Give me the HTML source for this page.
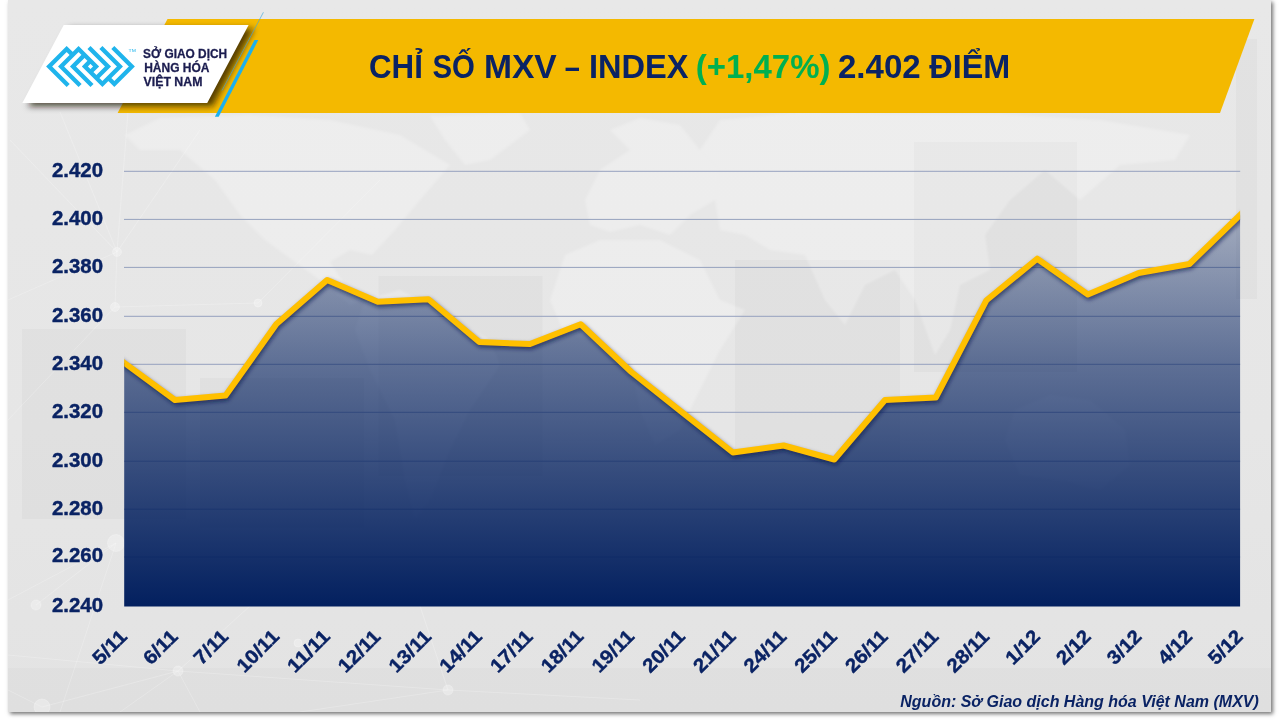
<!DOCTYPE html>
<html lang="vi">
<head>
<meta charset="utf-8">
<title>Chỉ số MXV – Index</title>
<style>
html,body{margin:0;padding:0;background:#fff;}
body{width:1280px;height:720px;overflow:hidden;position:relative;font-family:"Liberation Sans","DejaVu Sans",sans-serif;}
#slide{position:absolute;left:8px;top:0;width:1263px;height:712px;background:linear-gradient(#e8e8e8 0,#e6e6e6 60%,#e3e3e3 100%);box-shadow:2px 2px 4px rgba(0,0,0,.55);}
svg{position:absolute;left:0;top:0;}
.ax{font-family:"Liberation Sans","DejaVu Sans",sans-serif;font-weight:700;fill:#0a2364;stroke:#0a2364;stroke-width:.4px;}
</style>
</head>
<body>
<div id="slide"></div>
<svg width="1280" height="720" viewBox="0 0 1280 720">
<defs>
<linearGradient id="ga" gradientUnits="userSpaceOnUse" x1="0" y1="215" x2="0" y2="606">
<stop offset="0" stop-color="#03205f" stop-opacity=".30"/>
<stop offset=".38" stop-color="#03205f" stop-opacity=".60"/>
<stop offset="1" stop-color="#03205f" stop-opacity="1"/>
</linearGradient>
<linearGradient id="gs" gradientUnits="userSpaceOnUse" x1="208" y1="0" x2="222" y2="7.5">
<stop offset="0" stop-color="#3a2a00" stop-opacity=".75"/>
<stop offset="1" stop-color="#3a2a00" stop-opacity="0"/>
</linearGradient>
<filter id="ls" x="-5%" y="-20%" width="110%" height="140%"><feGaussianBlur stdDeviation="2"/></filter>
<filter id="ps" x="-10%" y="-20%" width="120%" height="150%"><feGaussianBlur stdDeviation="3"/></filter>
<filter id="mb" x="-5%" y="-5%" width="110%" height="110%"><feGaussianBlur stdDeviation="1.2"/></filter>
<clipPath id="cp"><rect x="124.2" y="150" width="1115.9" height="456.5"/></clipPath>
<clipPath id="cs"><rect x="8" y="0" width="1263" height="712"/></clipPath>
</defs>

<g id="bg" clip-path="url(#cs)">
<rect x="8" y="668" width="1263" height="44" fill="#000" fill-opacity=".016"/>
<g fill="#000" fill-opacity=".022">
<rect x="22" y="329" width="164" height="190"/>
<rect x="200" y="378" width="164" height="150"/>
<rect x="378.5" y="276" width="164" height="200"/>
<rect x="735" y="260" width="165" height="200"/>
<rect x="914" y="142" width="163" height="230"/>
<rect x="1236" y="39" width="21" height="260"/>
</g>
<g fill="#fff" fill-opacity=".24" filter="url(#mb)">
<path d="M125,135 L160,118 L250,115 L330,120 L400,135 L450,165 L420,200 L395,230 L372,255 L350,250 L330,262 L345,285 L365,300 L350,305 L320,280 L295,262 L265,240 L240,215 L215,180 L180,150 L140,150 Z"/>
<path d="M430,116 L520,113 L530,130 L490,160 L465,165 L445,140 Z"/>
<path d="M365,300 L400,290 L440,310 L490,340 L500,365 L470,410 L450,450 L430,500 L415,520 L405,480 L395,420 L370,370 L355,330 Z"/>
<path d="M585,200 L600,170 L630,150 L610,130 L640,118 L680,125 L700,150 L720,170 L715,200 L690,215 L670,235 L640,225 L610,232 L590,225 Z"/>
<path d="M565,255 L600,240 L660,240 L700,260 L720,300 L745,310 L720,350 L700,390 L680,430 L655,445 L640,410 L630,360 L600,340 L565,335 L550,300 Z"/>
<path d="M700,150 L720,120 L800,112 L900,114 L1000,114 L1100,120 L1190,135 L1175,160 L1120,165 L1080,200 L1045,170 L1010,200 L985,235 L990,270 L960,285 L950,330 L935,355 L915,300 L895,270 L865,285 L845,325 L825,300 L805,255 L770,250 L745,235 L720,230 L715,200 L720,170 Z"/>
<path d="M1015,410 L1050,395 L1090,400 L1125,430 L1130,465 L1100,490 L1060,480 L1020,475 L1005,440 Z"/>
</g>
<g stroke="#fff" stroke-opacity=".22" stroke-width="1" fill="#fff" fill-opacity=".28">
<path d="M117,252 L10,140 M117,252 L60,112 M117,252 L128,112 M117,252 L200,130 M117,252 L8,300 M117,252 L115,307 M115,307 L8,420 M115,307 L258,303 M258,303 L380,180 M116,543 L8,600 M116,543 L36,605 M116,543 L60,712" fill="none"/>
<circle cx="117" cy="252" r="4.5"/><circle cx="115" cy="307" r="4.5"/><circle cx="258" cy="303" r="4"/><circle cx="116" cy="543" r="8.5"/><circle cx="36" cy="605" r="5"/><circle cx="178" cy="671" r="5"/><circle cx="42" cy="707" r="8"/><circle cx="448" cy="690" r="5"/><circle cx="298" cy="643" r="4"/>
<path d="M178,671 L8,655 M178,671 L42,707 M178,671 L120,712 M178,671 L200,712 M178,671 L448,690 M178,671 L250,606 M42,707 L8,690 M448,690 L300,712 M448,690 L640,700 M448,690 L420,606" fill="none"/>
</g>
</g>

<g stroke="#95a1be" stroke-width="1">
<line x1="124" y1="171.30" x2="1240.2" y2="171.30"/>
<line x1="124" y1="219.40" x2="1240.2" y2="219.40"/>
<line x1="124" y1="267.40" x2="1240.2" y2="267.40"/>
<line x1="124" y1="316.30" x2="1240.2" y2="316.30"/>
<line x1="124" y1="364.30" x2="1240.2" y2="364.30"/>
<line x1="124" y1="412.30" x2="1240.2" y2="412.30"/>
<line x1="124" y1="461.20" x2="1240.2" y2="461.20"/>
<line x1="124" y1="509.20" x2="1240.2" y2="509.20"/>
<line x1="124" y1="557.00" x2="1240.2" y2="557.00"/>
</g>

<path d="M124.2,606.6 L124.2,362.8 L174.9,400.0 L225.6,395.5 L276.4,324.0 L327.1,280.0 L377.8,301.8 L428.5,299.2 L479.3,342.0 L530.0,344.0 L580.7,324.2 L631.4,372.0 L682.2,412.3 L732.9,452.5 L783.6,445.5 L834.3,459.5 L885.0,400.0 L935.8,397.5 L986.5,300.2 L1037.2,258.7 L1087.9,294.5 L1138.7,273.0 L1189.4,264.0 L1240.1,215.0 L1240.1,606.6 Z" fill="url(#ga)"/>

<g clip-path="url(#cp)"><polyline points="114.1,355.4 124.2,362.8 174.9,400.0 225.6,395.5 276.4,324.0 327.1,280.0 377.8,301.8 428.5,299.2 479.3,342.0 530.0,344.0 580.7,324.2 631.4,372.0 682.2,412.3 732.9,452.5 783.6,445.5 834.3,459.5 885.0,400.0 935.8,397.5 986.5,300.2 1037.2,258.7 1087.9,294.5 1138.7,273.0 1189.4,264.0 1240.1,215.0 1250.3,205.2" fill="none" stroke="#0a1a4a" stroke-opacity=".7" stroke-width="5.5" stroke-linejoin="round" transform="translate(1,2.4)" filter="url(#ls)"/>
<polyline points="114.1,355.4 124.2,362.8 174.9,400.0 225.6,395.5 276.4,324.0 327.1,280.0 377.8,301.8 428.5,299.2 479.3,342.0 530.0,344.0 580.7,324.2 631.4,372.0 682.2,412.3 732.9,452.5 783.6,445.5 834.3,459.5 885.0,400.0 935.8,397.5 986.5,300.2 1037.2,258.7 1087.9,294.5 1138.7,273.0 1189.4,264.0 1240.1,215.0 1250.3,205.2" fill="none" stroke="#ffc000" stroke-width="6" stroke-linejoin="round"/></g>

<g class="ax" font-size="19.3" text-anchor="start">
<text x="52" y="176.7" textLength="51" lengthAdjust="spacingAndGlyphs">2.420</text>
<text x="52" y="224.8" textLength="51" lengthAdjust="spacingAndGlyphs">2.400</text>
<text x="52" y="272.8" textLength="51" lengthAdjust="spacingAndGlyphs">2.380</text>
<text x="52" y="321.7" textLength="51" lengthAdjust="spacingAndGlyphs">2.360</text>
<text x="52" y="369.7" textLength="51" lengthAdjust="spacingAndGlyphs">2.340</text>
<text x="52" y="417.7" textLength="51" lengthAdjust="spacingAndGlyphs">2.320</text>
<text x="52" y="466.6" textLength="51" lengthAdjust="spacingAndGlyphs">2.300</text>
<text x="52" y="514.6" textLength="51" lengthAdjust="spacingAndGlyphs">2.280</text>
<text x="52" y="562.4" textLength="51" lengthAdjust="spacingAndGlyphs">2.260</text>
<text x="52" y="612.0" textLength="51" lengthAdjust="spacingAndGlyphs">2.240</text>
</g>

<g class="ax" font-size="19.3" text-anchor="end">
<text x="128.2" y="637.7" transform="rotate(-45 128.2 637.7)" textLength="39.6" lengthAdjust="spacingAndGlyphs">5/11</text>
<text x="178.9" y="637.7" transform="rotate(-45 178.9 637.7)" textLength="39.6" lengthAdjust="spacingAndGlyphs">6/11</text>
<text x="229.6" y="637.7" transform="rotate(-45 229.6 637.7)" textLength="39.6" lengthAdjust="spacingAndGlyphs">7/11</text>
<text x="280.4" y="637.7" transform="rotate(-45 280.4 637.7)" textLength="50.9" lengthAdjust="spacingAndGlyphs">10/11</text>
<text x="331.1" y="637.7" transform="rotate(-45 331.1 637.7)" textLength="50.9" lengthAdjust="spacingAndGlyphs">11/11</text>
<text x="381.8" y="637.7" transform="rotate(-45 381.8 637.7)" textLength="50.9" lengthAdjust="spacingAndGlyphs">12/11</text>
<text x="432.5" y="637.7" transform="rotate(-45 432.5 637.7)" textLength="50.9" lengthAdjust="spacingAndGlyphs">13/11</text>
<text x="483.3" y="637.7" transform="rotate(-45 483.3 637.7)" textLength="50.9" lengthAdjust="spacingAndGlyphs">14/11</text>
<text x="534.0" y="637.7" transform="rotate(-45 534.0 637.7)" textLength="50.9" lengthAdjust="spacingAndGlyphs">17/11</text>
<text x="584.7" y="637.7" transform="rotate(-45 584.7 637.7)" textLength="50.9" lengthAdjust="spacingAndGlyphs">18/11</text>
<text x="635.4" y="637.7" transform="rotate(-45 635.4 637.7)" textLength="50.9" lengthAdjust="spacingAndGlyphs">19/11</text>
<text x="686.2" y="637.7" transform="rotate(-45 686.2 637.7)" textLength="50.9" lengthAdjust="spacingAndGlyphs">20/11</text>
<text x="736.9" y="637.7" transform="rotate(-45 736.9 637.7)" textLength="50.9" lengthAdjust="spacingAndGlyphs">21/11</text>
<text x="787.6" y="637.7" transform="rotate(-45 787.6 637.7)" textLength="50.9" lengthAdjust="spacingAndGlyphs">24/11</text>
<text x="838.3" y="637.7" transform="rotate(-45 838.3 637.7)" textLength="50.9" lengthAdjust="spacingAndGlyphs">25/11</text>
<text x="889.0" y="637.7" transform="rotate(-45 889.0 637.7)" textLength="50.9" lengthAdjust="spacingAndGlyphs">26/11</text>
<text x="939.8" y="637.7" transform="rotate(-45 939.8 637.7)" textLength="50.9" lengthAdjust="spacingAndGlyphs">27/11</text>
<text x="990.5" y="637.7" transform="rotate(-45 990.5 637.7)" textLength="50.9" lengthAdjust="spacingAndGlyphs">28/11</text>
<text x="1041.2" y="637.7" transform="rotate(-45 1041.2 637.7)" textLength="39.6" lengthAdjust="spacingAndGlyphs">1/12</text>
<text x="1091.9" y="637.7" transform="rotate(-45 1091.9 637.7)" textLength="39.6" lengthAdjust="spacingAndGlyphs">2/12</text>
<text x="1142.7" y="637.7" transform="rotate(-45 1142.7 637.7)" textLength="39.6" lengthAdjust="spacingAndGlyphs">3/12</text>
<text x="1193.4" y="637.7" transform="rotate(-45 1193.4 637.7)" textLength="39.6" lengthAdjust="spacingAndGlyphs">4/12</text>
<text x="1244.1" y="637.7" transform="rotate(-45 1244.1 637.7)" textLength="39.6" lengthAdjust="spacingAndGlyphs">5/12</text>
</g>

<polygon points="167.5,19.1 1254.4,19.1 1220,112.9 117.6,112.9" fill="#f4b900"/>

<polygon points="22.3,102.9 63.7,25 248.6,25 207.2,102.9" fill="#1a1000" fill-opacity=".72" transform="translate(5.5,3.5)" filter="url(#ps)"/>

<line x1="263.4" y1="12.3" x2="222" y2="90.5" stroke="#3fa9dc" stroke-opacity=".65" stroke-width="1"/>

<polygon points="254.5,40 258.3,40 218.7,116.7 214.9,116.7" fill="#1cb0ee"/>

<polygon points="22.3,102.9 63.7,25 248.6,25 207.2,102.9" fill="#fff"/>

<g transform="translate(90.49,66.43) scale(0.08123)"><path d="M-274.8,234.2 L-509.0,0.0 L-293.5,-215.5 L-220.2,-142.2 M274.8,-234.2 L509.0,0.0 L293.5,215.5 L220.2,142.2 M-128.1,234.2 L-362.3,0.0 L-146.8,-215.5 L69.0,0.0 L0.0,69.0 M128.1,-234.2 L362.3,0.0 L146.8,215.5 L-69.0,0.0 L0.0,-69.0 M18.6,234.2 L-215.7,0.0 L-73.3,-142.3 M-18.6,-234.2 L215.7,0.0 L73.3,142.3" fill="none" stroke="#1fb4ec" stroke-width="53.03" stroke-linejoin="miter" stroke-miterlimit="4" stroke-linecap="butt"/></g>

<text x="128.6" y="52.3" font-size="4.2" fill="#1fb4ec" textLength="7.4" lengthAdjust="spacingAndGlyphs">TM</text>

<g font-weight="700" font-size="12.7" fill="#1b1c4f" stroke="#1b1c4f" stroke-width=".3">
<text x="143.1" y="58.1" textLength="84" lengthAdjust="spacingAndGlyphs">SỞ GIAO DỊCH</text>
<text x="144.2" y="71.8" textLength="65.2" lengthAdjust="spacingAndGlyphs">HÀNG HÓA</text>
<text x="143.6" y="85.5" textLength="58.8" lengthAdjust="spacingAndGlyphs">VIỆT NAM</text>
</g>

<g font-weight="700" font-size="32.7">
<text x="368.98" y="77.6" textLength="53.85" lengthAdjust="spacingAndGlyphs" fill="#0a2364">CHỈ</text>
<text x="432.56" y="77.6" textLength="42.39" lengthAdjust="spacingAndGlyphs" fill="#0a2364">SỐ</text>
<text x="483.92" y="77.6" textLength="72.77" lengthAdjust="spacingAndGlyphs" fill="#0a2364">MXV</text>
<text x="564.63" y="77.6" textLength="15.10" lengthAdjust="spacingAndGlyphs" fill="#0a2364">–</text>
<text x="588.93" y="77.6" textLength="99.63" lengthAdjust="spacingAndGlyphs" fill="#0a2364">INDEX</text>
<text x="695.81" y="77.6" textLength="134.67" lengthAdjust="spacingAndGlyphs" fill="#00b050">(+1,47%)</text>
<text x="837.97" y="77.6" textLength="82.73" lengthAdjust="spacingAndGlyphs" fill="#0a2364">2.402</text>
<text x="929.37" y="77.6" textLength="80.74" lengthAdjust="spacingAndGlyphs" fill="#0a2364">ĐIỂM</text>
</g>

<text x="900.3" y="707.2" font-size="16" font-weight="700" font-style="italic" fill="#0a2364" textLength="358.5" lengthAdjust="spacingAndGlyphs">Nguồn: Sở Giao dịch Hàng hóa Việt Nam (MXV)</text>

</svg>
</body>
</html>
